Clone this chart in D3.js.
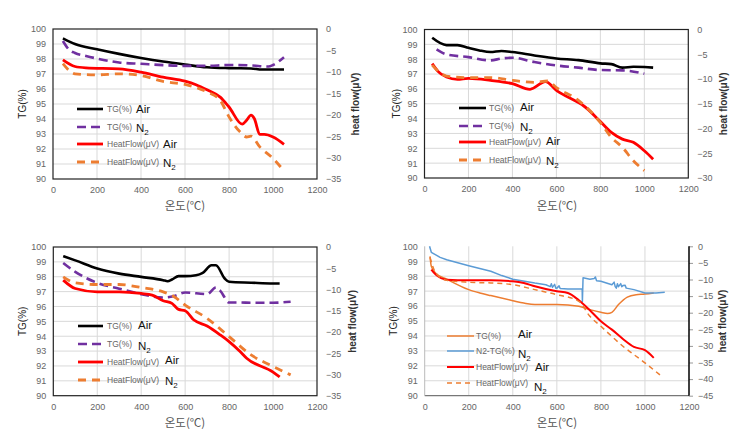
<!DOCTYPE html>
<html><head><meta charset="utf-8">
<script src="https://cdn.jsdelivr.net/npm/d3@7"></script>
<style>
body{margin:0;background:#fff;}
svg{display:block;font-family:"Liberation Sans",Arial,sans-serif;}
</style></head>
<body><svg id="c" width="748" height="446"></svg>
<script>
// ---------- DATA (temperature °C, value) ----------
const xTicks = [0,200,400,600,800,1000,1200];
const tgTicks = [90,91,92,93,94,95,96,97,98,99,100];
const hfTicks1 = [-35,-30,-25,-20,-15,-10,-5,0];
const hfTicks2 = [-30,-25,-20,-15,-10,-5,0];
const hfTicks4 = [-45,-40,-35,-30,-25,-20,-15,-10,-5,0];

// Panel 1
const p1TgAir = [[45,99.38],[100,99.0],[200,98.65],[300,98.34],[400,98.07],[500,97.83],[600,97.63],[700,97.45],[800,97.39],[900,97.37],[950,97.3],[1050,97.3]];
const p1TgN2 = [[45,99.2],[70,98.67],[100,98.4],[150,98.2],[200,98.03],[300,97.77],[400,97.68],[500,97.59],[600,97.54],[700,97.54],[800,97.6],[900,97.57],[980,97.5],[1000,97.6],[1050,98.12]];
const p1HfAir = [[45,-7.2],[100,-8.75],[150,-9.06],[300,-9.3],[400,-10.07],[500,-11.23],[600,-12.16],[650,-13.0],[700,-14.2],[760,-15.9],[800,-18.2],[860,-22.2],[880,-21.3],[900,-20.1],[915,-20.9],[940,-24.6],[960,-24.6],[1000,-25.2],[1050,-26.9]];
const p1HfN2 = [[45,-8.1],[100,-10.46],[200,-10.7],[300,-10.46],[400,-10.84],[500,-12.24],[600,-12.94],[700,-14.7],[760,-16.65],[800,-20.5],[850,-24.0],[880,-25.2],[900,-25.0],[940,-27.5],[1000,-30.2],[1050,-33.1]];

// Panel 2
const p2TgAir = [[35,99.44],[100,98.95],[150,98.95],[200,98.77],[250,98.59],[300,98.48],[350,98.55],[400,98.48],[500,98.25],[600,98.05],[700,97.94],[800,97.72],[850,97.67],[900,97.43],[950,97.49],[1000,97.47],[1040,97.43]];
const p2TgN2 = [[55,98.66],[100,98.32],[200,98.14],[300,97.92],[350,98.05],[400,98.1],[500,97.81],[600,97.58],[700,97.43],[800,97.27],[900,97.25],[1000,97.02]];
const p2HfAir = [[35,-6.9],[60,-8.4],[100,-9.6],[150,-10.07],[200,-9.87],[300,-10.27],[400,-10.94],[480,-12.08],[550,-10.54],[600,-12.28],[700,-14.77],[720,-15.3],[800,-18.6],[850,-20.8],[900,-22.15],[950,-22.8],[1000,-24.5],[1040,-26.2]];
const p2HfN2 = [[35,-7.2],[100,-9.4],[200,-9.73],[300,-9.73],[400,-10.27],[500,-10.7],[560,-10.4],[600,-11.74],[700,-14.3],[800,-18.8],[850,-21.8],[900,-23.8],[950,-26.5],[1000,-28.5]];

// Panel 3
const p3TgAir = [[45,99.38],[100,99.1],[200,98.55],[300,98.21],[400,97.99],[500,97.77],[520,97.7],[540,97.81],[570,98.04],[600,98.04],[650,98.1],[680,98.26],[720,98.77],[740,98.77],[780,97.88],[800,97.66],[900,97.6],[1000,97.55],[1030,97.55]];
const p3TgN2 = [[45,98.93],[100,98.33],[200,97.59],[300,97.2],[400,96.83],[500,96.6],[550,96.7],[600,96.94],[700,96.83],[740,97.28],[760,97.05],[800,96.27],[850,96.27],[900,96.25],[1000,96.25],[1080,96.32]];
const p3HfAir = [[45,-7.8],[100,-9.77],[200,-10.55],[300,-10.55],[400,-10.94],[450,-11.33],[500,-12.66],[540,-13.28],[570,-14.69],[600,-15.0],[640,-17.19],[700,-18.6],[760,-20.7],[800,-22.27],[850,-24.6],[880,-26.17],[1000,-29.45],[1030,-30.6]];
const p3HfN2 = [[45,-7.03],[100,-8.44],[200,-8.83],[300,-8.83],[400,-9.53],[500,-10.55],[550,-11.7],[600,-13.67],[700,-16.8],[800,-21.1],[900,-25.4],[1000,-28.1],[1080,-30.1]];

// Panel 4
const p4TgAir = [[24,99.33],[30,98.66],[50,98.2],[100,97.8],[200,97.1],[250,96.88],[300,96.7],[400,96.36],[450,96.2],[500,96.1],[600,96.1],[700,95.98],[750,95.76],[800,95.58],[830,95.5],[850,95.58],[880,96.1],[920,96.6],[960,96.76],[1000,96.8],[1040,96.88]];
const p4TgN2 = [[22,100],[30,99.6],[70,99.26],[100,99.1],[200,98.7],[300,98.33],[350,98.04],[400,97.8],[500,97.54],[550,97.43],[570,97.3],[575,97.5],[580,97.25],[590,97.45],[595,97.2],[600,97.2],[610,97.35],[615,97.18],[650,97.14],[715,97.14],[716,96.3],[719,97.9],[750,97.8],[770,97.85],[775,97.95],[780,97.7],[800,97.66],[850,97.43],[860,97.6],[865,97.3],[870,97.2],[875,97.5],[880,97.3],[890,97.5],[895,97.3],[900,97.37],[910,97.4],[915,97.2],[950,97.1],[1000,96.88],[1050,96.88],[1090,96.92]];
const p4HfAir = [[30,-7.03],[50,-8.53],[100,-10.04],[200,-10.24],[300,-10.24],[400,-10.54],[450,-11.04],[500,-12.05],[600,-13.55],[650,-14.06],[700,-16.27],[750,-19.28],[800,-22.6],[850,-25.1],[900,-27.9],[950,-30.3],[1000,-31.3],[1040,-33.6]];
const p4HfN2 = [[24,-3.3],[50,-8.03],[100,-10.24],[200,-10.84],[300,-11.04],[400,-11.55],[500,-13.05],[600,-14.56],[700,-16.57],[750,-21.1],[800,-24.1],[900,-30.1],[1000,-35.1],[1080,-39.4]];

const legendText = ["TG(%)","TG(%)","HeatFlow(μV)","HeatFlow(μV)"];
const legendText4 = ["TG(%)","N2-TG(%)","HeatFlow(μV)","HeatFlow(μV)"];
const gasLabels = ["Air","N2","Air","N2"];

// ---------- LAYOUT ----------
const panels = [
  {box:[53,29,317,179], hf:hfTicks1, tgA:p1TgAir, tgN:p1TgN2, hfA:p1HfAir, hfN:p1HfN2, leg:legendText, style:"std",
   legX:[77,103,107], legY:[109,127,144,162], gasX:[136,136,163,163], gasY:[109,128,144,163], titleL:22, titleR:355, xt:[185,210]},
  {box:[424.5,29.5,688.3,178], hf:hfTicks2, tgA:p2TgAir, tgN:p2TgN2, hfA:p2HfAir, hfN:p2HfN2, leg:legendText, style:"std",
   legX:[459,486,489], legY:[108,126,142,160], gasX:[520,520,546,546], gasY:[107,127,141,161], titleL:396, titleR:723, xt:[557,210]},
  {box:[53.3,247,317,395.7], hf:hfTicks1, tgA:p3TgAir, tgN:p3TgN2, hfA:p3HfAir, hfN:p3HfN2, leg:legendText, style:"std",
   legX:[78,103,107], legY:[326,344,362,380], gasX:[138,138,165,165], gasY:[325,346,360,381], titleL:22, titleR:352, xt:[185,427]},
  {box:[424.7,246.3,689,395.7], hf:hfTicks4, tgA:p4TgAir, tgN:p4TgN2, hfA:p4HfAir, hfN:p4HfN2, leg:legendText4, style:"p4",
   legX:[447,474,476], legY:[336,351,367,383], gasX:[518,518,535,534], gasY:[334,354,367,387], titleL:393, titleR:722, xt:[557,427]}
];

const svg = d3.select("#c");

panels.forEach(p => {
  const [x0,y0,x1,y1] = p.box;
  const g = svg.append("g");
  const x = d3.scaleLinear().domain([0,1200]).range([x0,x1]);
  const yL = d3.scaleLinear().domain([90,100]).range([y1,y0]);
  const yR = d3.scaleLinear().domain([d3.min(p.hf),0]).range([y1,y0]);

  // gridlines
  g.append("g").selectAll("line").data(xTicks.slice(1,-1)).join("line")
    .attr("x1",d=>x(d)).attr("x2",d=>x(d)).attr("y1",y0).attr("y2",y1)
    .attr("stroke","#d9d9d9").attr("stroke-width",1);
  g.append("g").selectAll("line").data(tgTicks.slice(1,-1)).join("line")
    .attr("x1",x0).attr("x2",x1).attr("y1",d=>yL(d)).attr("y2",d=>yL(d))
    .attr("stroke","#d9d9d9").attr("stroke-width",1);

  // axes (tick labels)
  const axB = d3.axisBottom(x).tickValues(xTicks).tickFormat(d3.format("d")).tickSize(0).tickPadding(8);
  const axL = d3.axisLeft(yL).tickValues(tgTicks).tickFormat(d3.format("d")).tickSize(0).tickPadding(7);
  const axR = d3.axisRight(yR).tickValues(p.hf).tickFormat(d3.format("d")).tickSize(p.style==="p4"?4:0).tickPadding(p.style==="p4"?5:9);
  const gb = g.append("g").attr("transform",`translate(0,${y1})`).call(axB);
  const gl = g.append("g").attr("transform",`translate(${x0},0)`).call(axL);
  const gr = g.append("g").attr("transform",`translate(${x1},0)`).call(axR);
  [gb,gl,gr].forEach(a=>{
    a.select(".domain").remove();
    a.selectAll("text").attr("fill","#666").style("font-size","9px");
    a.selectAll("line").attr("stroke","#999");
  });

  // frame
  if (p.style==="std") {
    g.append("rect").attr("x",x0).attr("y",y0).attr("width",x1-x0).attr("height",y1-y0)
      .attr("fill","none").attr("stroke","#222").attr("stroke-width",1.2);
  } else {
    g.append("line").attr("x1",x0).attr("x2",x1).attr("y1",y1).attr("y2",y1).attr("stroke","#777").attr("stroke-width",1.2);
    g.append("line").attr("x1",x0).attr("x2",x0).attr("y1",y0).attr("y2",y1).attr("stroke","#bbb").attr("stroke-width",1);
    g.append("line").attr("x1",x1).attr("x2",x1).attr("y1",y0).attr("y2",y1).attr("stroke","#000").attr("stroke-width",1.5);
  }

  // titles
  g.append("text").attr("transform",`translate(${p.titleL},${(y0+y1)/2}) rotate(-90)`)
    .attr("text-anchor","middle").attr("dy","0.35em").style("font-size","10px").attr("fill","#222").text("TG(%)");
  g.append("text").attr("transform",`translate(${p.titleR},${(y0+y1)/2}) rotate(-90)`)
    .attr("text-anchor","middle").attr("dy","0.35em").style("font-size","10px").style("font-weight","bold").attr("fill","#333").text("heat flow(μV)");
  g.append("text").attr("x",p.xt[0]).attr("y",p.xt[1]).attr("text-anchor","middle")
    .style("font-family","'Noto Sans CJK KR',sans-serif").style("font-size","11.5px").attr("fill","#555").text("온도(℃)");

  // series
  let styles;
  if (p.style==="std") {
    styles = [
      {d:p.tgA, y:yL, c:"#000000", w:2.6, dash:null, curve:d3.curveMonotoneX},
      {d:p.tgN, y:yL, c:"#7030A0", w:2.6, dash:"9,5", curve:d3.curveMonotoneX},
      {d:p.hfA, y:yR, c:"#FF0000", w:2.8, dash:null, curve:d3.curveMonotoneX},
      {d:p.hfN, y:yR, c:"#ED7D31", w:2.8, dash:"8,6", curve:d3.curveMonotoneX}
    ];
  } else {
    styles = [
      {d:p.tgA, y:yL, c:"#ED7D31", w:1.5, dash:null, curve:d3.curveMonotoneX},
      {d:p.tgN, y:yL, c:"#5B9BD5", w:1.5, dash:null, curve:d3.curveLinear},
      {d:p.hfA, y:yR, c:"#FF0000", w:2.0, dash:null, curve:d3.curveMonotoneX},
      {d:p.hfN, y:yR, c:"#ED7D31", w:1.5, dash:"5,4", curve:d3.curveMonotoneX}
    ];
  }
  styles.forEach(s=>{
    const line = d3.line().x(d=>x(d[0])).y(d=>s.y(d[1])).curve(s.curve);
    g.append("path").datum(s.d).attr("d",line).attr("fill","none")
      .attr("stroke",s.c).attr("stroke-width",s.w).attr("stroke-linejoin","round")
      .attr("stroke-dasharray",s.dash);
  });

  // legend
  styles.forEach((s,i)=>{
    const ly = p.legY[i];
    g.append("line").attr("x1",p.legX[0]).attr("x2",p.legX[1]).attr("y1",ly).attr("y2",ly)
      .attr("stroke",s.c).attr("stroke-width",s.w).attr("stroke-dasharray",s.dash);
    g.append("text").attr("x",p.legX[2]).attr("y",ly).attr("dy","0.35em")
      .style("font-size","8.5px").attr("fill","#666").text(p.leg[i]);
    const t = g.append("text").attr("x",p.gasX[i]).attr("y",p.gasY[i]).attr("dy","0.35em")
      .style("font-size","11.5px").attr("fill","#111");
    const lab = gasLabels[i];
    if (lab==="N2") {
      t.append("tspan").text("N");
      t.append("tspan").attr("dy","3").style("font-size","8px").text("2");
    } else t.text(lab);
  });
});
</script>
</body></html>
